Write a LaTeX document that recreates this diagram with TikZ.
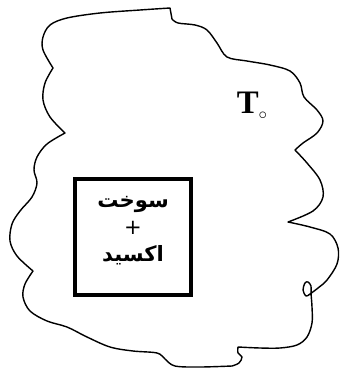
\documentclass[tikz,border=0pt]{standalone}
\usepackage{fontspec}
\usetikzlibrary{positioning}
\TeXXeTstate=1
\newfontfamily\arabicfont[Script=Arabic]{DejaVu Sans}
\newfontfamily\timesfont{Liberation Serif}

\begin{document}
\begin{tikzpicture}[x=0.03cm, y=-0.03cm,
    blob/.style={line width=1.2pt, line join=round, smooth, tension=0.55},
    chamber/.style={draw, line width=3.4pt, minimum width=3.48cm, minimum height=3.48cm, inner sep=0pt},
    reactant/.style={font=\arabicfont\bfseries\fontsize{18}{23}\selectfont, align=center},
    temp/.style={font=\timesfont\bfseries\fontsize{28}{28}\selectfont, inner sep=0pt}]
  \useasboundingbox (0,0) rectangle (340,368);
  % surroundings
  \draw[blob]
    plot coordinates {(33,271) (17,256) (10,241) (12,224) (20,211) (32,197) (37,183) (34,170) (37,157) (47,144) (65,133)}
    -- plot coordinates {(65,133) (50,117) (43,100) (45,83) (53,68)}
    -- plot coordinates {(53,68) (43,50) (43,37) (50,25) (67,18) (100,13) (140,10) (170,8)}
    -- plot coordinates {(172,19) (178,23) (195,25) (207,30) (217,43) (227,57) (247,61) (270,65) (290,71) (300,83) (304,97) (317,110) (323,121) (317,133) (303,143) (295,150)}
    -- plot coordinates {(295,150) (307,163) (320,180) (323,197) (313,211) (288,222)}
    -- plot coordinates {(288,222) (310,227) (330,234) (338,248) (337,264) (327,280) (318,288) (310,294) (306,296) (303,290) (305,283) (308,282) (311,286) (311,293) (312,307) (312,323) (307,337) (297,345) (280,348) (260,348) (238,347)}
    -- plot coordinates {(238,347) (238,353) (242,357) (239,363) (232,366)}
    -- plot coordinates {(232,366) (200,367) (175,366) (165,359) (157,353) (133,351) (110,347) (87,337) (67,327) (47,321) (30,311) (23,297) (25,284) (33,271)}
    -- cycle;
  % fuel + oxide
  \node[chamber] (fuelbox) at (133,237) {};
  \node[reactant] (fuel) at (133,231) {\beginR سوخت\endR\\{\mdseries +}\\\beginR اکسید\endR};
  \node[temp] (tamb) at (252,106) {T\raisebox{-5pt}{\fontsize{14}{14}\selectfont$\circ$}};
\end{tikzpicture}
\end{document}
